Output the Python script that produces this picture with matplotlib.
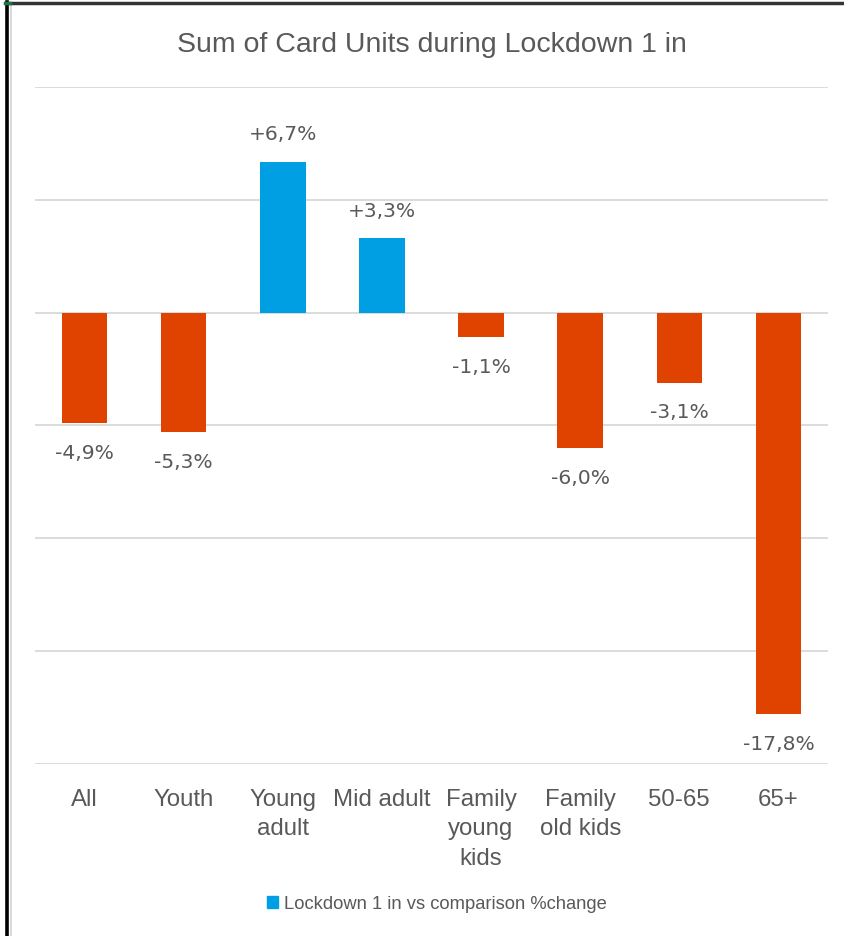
import matplotlib
matplotlib.use('Agg')
import matplotlib.pyplot as plt
from matplotlib.patches import Patch
from matplotlib.lines import Line2D

# data
categories = ['All', 'Youth', 'Young\nadult', 'Mid adult', 'Family\nyoung\nkids',
              'Family\nold kids', '50-65', '65+']
pct_change = [-4.9, -5.3, 6.7, 3.3, -1.1, -6.0, -3.1, -17.8]
series_name = 'Lockdown 1 in vs comparison %change'
title = 'Sum of Card Units during Lockdown 1 in'

blue = '#009FE3'
orange = '#E04300'
txt = '#595959'

fig = plt.figure(figsize=(8.45, 9.37), dpi=100)
ax = fig.add_axes([35 / 845, 1 - 764.5 / 937, (828 - 35) / 845, (764.5 - 88.3) / 937])

x = range(len(categories))
colors = [blue if v >= 0 else orange for v in pct_change]
bars = ax.bar(x, pct_change, width=0.46, color=colors, zorder=3)

for xi, v in zip(x, pct_change):
    lbl = ('+' if v > 0 else '') + f'{v:.1f}'.replace('.', ',') + '%'
    ax.annotate(lbl, (xi, v), xytext=(0, 20 if v > 0 else -21), textcoords='offset points',
                ha='center', va='center', fontsize=14.6, color=txt, family='DejaVu Sans')

ax.set_ylim(-20, 10)
ax.set_xlim(-0.5, len(categories) - 0.5)
ax.set_yticks([-20, -15, -10, -5, 0, 5, 10])
ax.yaxis.grid(True, color='#D9D9D9', linewidth=1.3, zorder=0)
ax.tick_params(axis='y', left=False, labelleft=False)
ax.tick_params(axis='x', bottom=False, pad=14)
ax.set_xticks(list(x))
ax.set_xticklabels(categories, fontsize=17.3, color=txt, family='Liberation Sans',
                   linespacing=1.44, va='top')
for s in ax.spines.values():
    s.set_visible(False)

fig.text(431.5 / 845, 1 - 52 / 937, title, ha='center', va='baseline',
         fontsize=20.5, color=txt, family='Liberation Sans')

fig.legend(handles=[Patch(color=blue, label=series_name)], loc='center',
           bbox_to_anchor=(437 / 845, 1 - 905 / 937), frameon=False,
           prop={'family': 'Liberation Sans', 'size': 13.2}, labelcolor=txt,
           handlelength=0.6, handleheight=0.6, handletextpad=0.3)

# spreadsheet frame around the chart
fig.add_artist(Line2D([7.5 / 845, 7.5 / 845], [0, 1 - 3 / 937], transform=fig.transFigure,
                      color='black', linewidth=2.6))
fig.add_artist(Line2D([11 / 845, 11 / 845], [0, 1 - 5 / 937], transform=fig.transFigure,
                      color='#D4D4D4', linewidth=1.2))
fig.add_artist(Line2D([6 / 845, 1], [1 - 3.5 / 937, 1 - 3.5 / 937], transform=fig.transFigure,
                      color='#333333', linewidth=2.5))
fig.add_artist(Line2D([5 / 845, 10 / 845], [1 - 3.5 / 937, 1 - 3.5 / 937], transform=fig.transFigure,
                      color='#217346', linewidth=2.5))

fig.savefig('out.png', dpi=100)
